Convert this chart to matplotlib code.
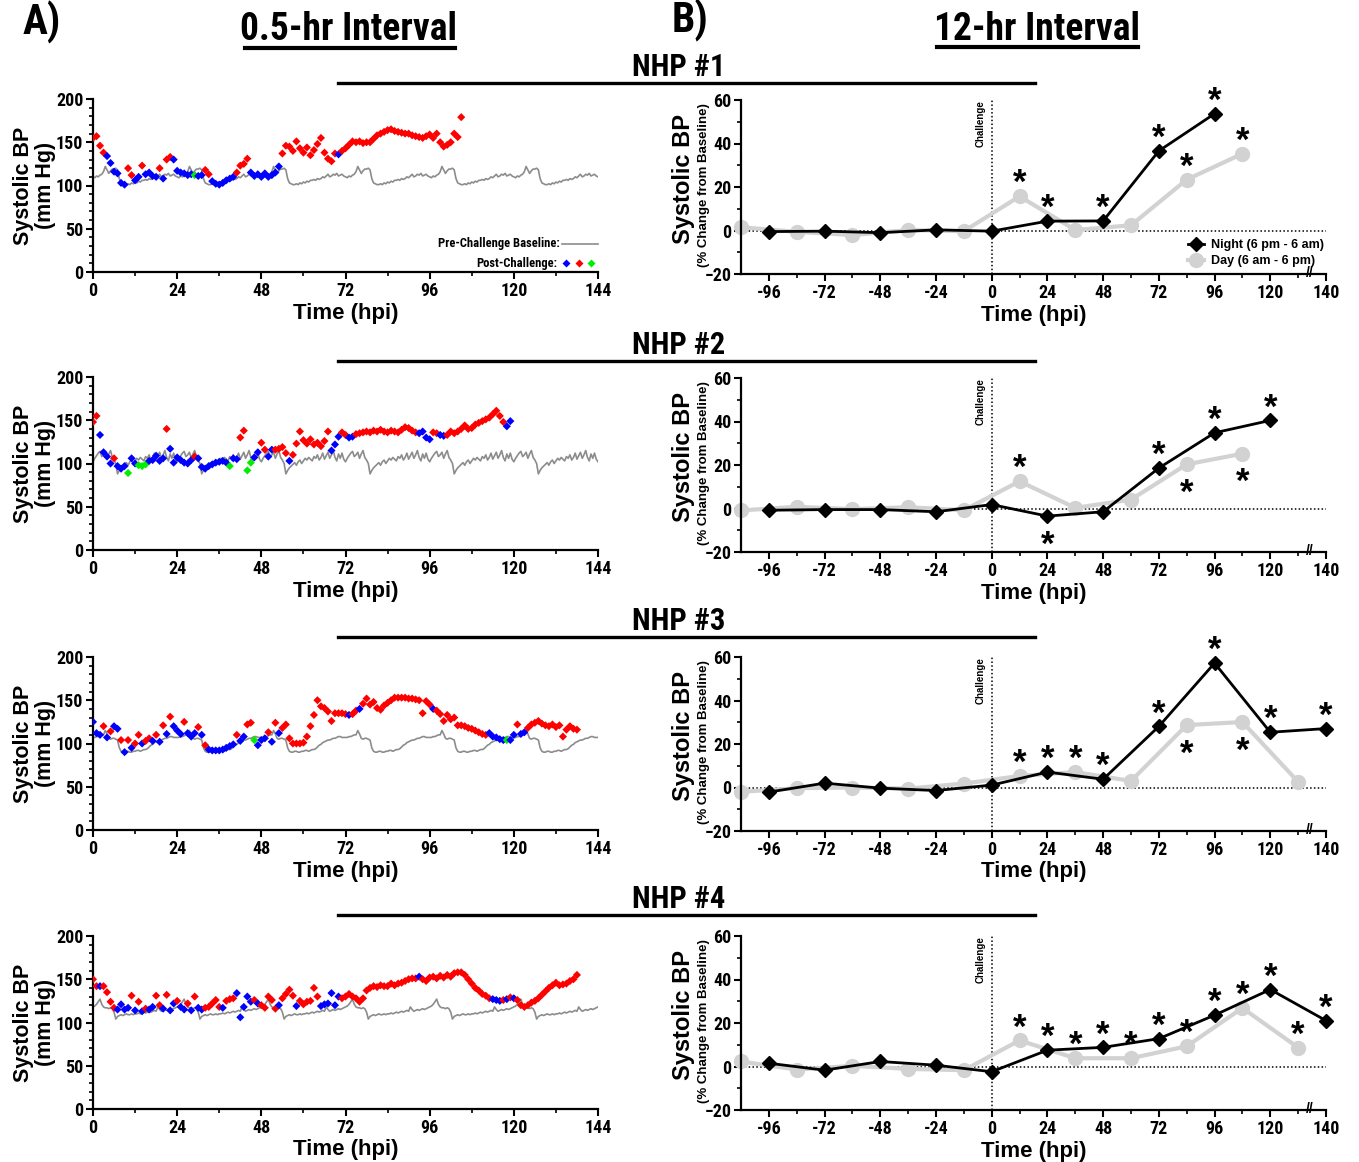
import numpy as np
import matplotlib
matplotlib.use("Agg")
import matplotlib.pyplot as plt
from matplotlib import font_manager
from matplotlib.font_manager import FontProperties
from matplotlib.lines import Line2D
from matplotlib.ticker import MultipleLocator, FixedLocator

# pick a condensed bold face for ticks and headers
_fonts = font_manager.fontManager.ttflist
_names = {f.name for f in _fonts}
if "Liberation Sans Narrow" in _names:
    NARROW, STRETCH, NSCALE = "Liberation Sans Narrow", "normal", 1.0
elif "Roboto Condensed" in _names:
    NARROW, STRETCH, NSCALE = "Roboto Condensed", "normal", 1.0
elif any(f.name == "DejaVu Sans" and f.stretch in ("condensed", "semi-condensed") for f in _fonts):
    NARROW, STRETCH, NSCALE = "DejaVu Sans", "condensed", 0.92
else:
    NARROW, STRETCH, NSCALE = "Liberation Sans", "normal", 0.84
WIDE = "Liberation Sans"


def narrow(size):
    return FontProperties(family=NARROW, stretch=STRETCH, weight="bold", size=size * NSCALE)


def wide(size):
    return FontProperties(family=WIDE, weight="bold", size=size)


# ---- A) 0.5-hr interval: pre-challenge daily baseline profile (0, 0.5, ... 23.5 h)
nhp1_base_day = [110, 109, 111, 110, 112, 113, 116, 122, 118, 114, 117, 119,
                 119, 120, 118, 108, 103, 102, 101, 101, 102, 101, 103, 102,
                 104, 103, 105, 104, 106, 106, 107, 106, 108, 107, 108, 110,
                 109, 111, 113, 110, 111, 113, 112, 114, 111, 112, 113, 111]
nhp2_base_day = [102, 106, 109, 112, 114, 108, 110, 113, 106, 111, 115, 107,
                 104, 100, 88, 92, 95, 97, 99, 101, 98, 102, 104, 100,
                 103, 106, 104, 107, 105, 103, 108, 106, 110, 104, 107, 112,
                 105, 109, 113, 106, 110, 115, 107, 103, 111, 106, 112, 105]
nhp3_base_day = [107, 107, 108, 108, 109, 110, 110, 115, 111, 106, 105, 106,
                 106, 105, 104, 95, 91, 90, 90, 91, 91, 90, 90, 91,
                 91, 92, 92, 91, 92, 93, 93, 94, 96, 98, 99, 101,
                 102, 103, 104, 104, 105, 106, 106, 107, 108, 108, 107, 107]
nhp4_base_day = [118, 119, 121, 124, 127, 121, 118, 117, 117, 116, 117, 116,
                 112, 104, 107, 108, 109, 108, 109, 110, 109, 109, 110, 109,
                 110, 110, 111, 110, 111, 112, 111, 112, 113, 112, 113, 114,
                 113, 118, 115, 113, 114, 115, 114, 115, 116, 115, 116, 117]

# post-challenge systolic BP, hourly from 0 hpi; colour code b / r / g per point
nhp1_post = [155, 157, 146, 138, 134, 126, 116, 114, 103, 101,
             120, 112, 106, 110, 123, 113, 115, 111, 110, 120,
             108, 130, 133, 130, 117, 115, 114, 112, 113, 112,
             111, 112, 118, 113, 105, 102, 101, 103, 106, 108,
             110, 115, 123, 125, 131, 115, 111, 113, 110, 114,
             110, 112, 115, 122, 137, 146, 145, 140, 151, 143,
             138, 144, 135, 141, 148, 155, 138, 131, 128, 137,
             136, 140, 143, 147, 151, 150, 151, 149, 150, 150,
             154, 158, 160, 162, 164, 165, 163, 162, 161, 160,
             160, 158, 157, 156, 155, 157, 159, 155, 160, 150,
             145, 147, 150, 160, 156, 179]
nhp1_codes = ("rrrrbbbbbb" "rrbbrbbbbr" "brrbbbbbbg" "bbrrbbbbbb" "brrrrbbbbb"
              "bbbbrrrrrr" "rrrrrrrrrr" "brrrrrrrrr" "rrrrrrrrrr" "rrrrrrrrrr" "rrrrrr")

nhp2_post = [148, 155, 133, 113, 108, 100, 106, 97, 94, 97,
             89, 106, 100, 98, 97, 99, 103, 104, 109, 103,
             106, 140, 117, 101, 107, 104, 101, 100, 104, 108,
             106, 96, 94, 97, 99, 101, 102, 103, 101, 97,
             106, 105, 130, 138, 92, 101, 107, 113, 124, 116,
             108, 116, 116, 117, 119, 112, 103, 110, 123, 137,
             127, 123, 128, 122, 124, 120, 126, 137, 115, 122,
             131, 136, 133, 130, 131, 134, 135, 136, 137, 136,
             138, 137, 139, 137, 136, 138, 137, 136, 139, 142,
             141, 138, 136, 135, 137, 130, 128, 136, 135, 133,
             132, 133, 137, 135, 137, 140, 144, 140, 141, 145,
             147, 149, 151, 153, 157, 161, 155, 148, 143, 149]
nhp2_codes = ("rrbbbbrbbb" "gbbgggbbbb" "brbbbbbbbr" "bbbbbbbbbg" "bbrrggbbrr"
              "bbrrrrbrrr" "rrrrrrrrbb" "brrbbrrrrr" "rrrrrrrrrr" "rrrbbbbrrb"
              "brrrrrrrrr" "rrrrrrrrbb")

nhp3_post = [125, 112, 110, 120, 107, 114, 120, 117, 104, 90,
             104, 95, 100, 110, 100, 103, 106, 103, 110, 102,
             121, 111, 131, 120, 115, 111, 125, 112, 108, 112,
             119, 110, 98, 93, 92, 92, 92, 93, 95, 97,
             99, 110, 103, 108, 122, 124, 104, 98, 104, 106,
             113, 102, 124, 112, 118, 122, 106, 100, 100, 100,
             101, 108, 120, 133, 150, 143, 141, 137, 126, 135,
             135, 135, 134, 133, 134, 138, 140, 146, 152, 145,
             148, 141, 139, 144, 147, 150, 153, 153, 153, 153,
             152, 152, 151, 150, 135, 149, 145, 140, 138, 134,
             126, 133, 128, 130, 121, 121, 120, 118, 117, 115,
             113, 111, 110, 112, 108, 107, 105, 104, 104, 104,
             110, 122, 111, 113, 118, 122, 124, 126, 123, 121,
             120, 122, 119, 121, 108, 116, 120, 117, 116]
nhp3_codes = ("bbbrbrbbrb" "rbrrbrrbrb" "rbrbbbrbbb" "rbrbbbbbbb" "brbbrrgbbb"
              "rbrbrrrrrr" "rrrrrrrrrr" "rrrbrrbrrr" "rrrrrrrrrr" "rrrrrrrbrr"
              "rrrrrrrrrr" "rrrbbbbbgb" "brbbrrrrrr" "rrrrrrrrr")

nhp4_post = [150, 142, 142, 142, 135, 124, 117, 115, 121, 115,
             117, 131, 114, 124, 113, 116, 115, 118, 131, 120,
             116, 132, 114, 122, 125, 118, 115, 122, 114, 130,
             117, 115, 117, 118, 122, 126, 118, 117, 125, 127,
             128, 134, 106, 118, 130, 124, 126, 122, 120, 117,
             130, 126, 116, 120, 128, 133, 138, 131, 119, 125,
             121, 124, 125, 140, 130, 119, 121, 122, 134, 120,
             130, 128, 130, 133, 130, 128, 124, 128, 137, 140,
             142, 141, 143, 142, 142, 145, 143, 145, 146, 148,
             150, 151, 151, 153, 150, 148, 152, 153, 151, 154,
             152, 155, 153, 157, 158, 158, 155, 150, 145, 140,
             137, 133, 131, 128, 127, 126, 125, 126, 127, 129,
             128, 126, 120, 118, 120, 123, 125, 128, 132, 136,
             140, 143, 146, 143, 144, 145, 148, 150, 155]
nhp4_codes = ("rrbrrrrbbb" "brbrbrbbrr" "brbbrbbrbr" "bbrrrrrbrr" "rbbbbbrbrr"
              "rrrbrrrrbr" "rrrrrbbbbb" "brrrrrrrrr" "rrrrrrrrrr" "rrrbrrrrrr"
              "rrrrrrrrrr" "rrrrbbbrbr" "brrrrrrrrr" "rrrrrrrrr")

# ---- B) 12-hr interval: % change from baseline
night_hours = [-96, -72, -48, -24, 0, 24, 48, 72, 96, 120, 144]
day_hours = [-108, -84, -60, -36, -12, 12, 36, 60, 84, 108, 132]

nhp1_night = [-0.5, -0.3, -1.0, 0.3, -0.3, 4.3, 4.4, 36.6, 53.7]
nhp1_day = [1.5, -0.6, -2.1, 0.2, -0.3, 15.7, 0.2, 2.4, 23.4, 35.3]
nhp2_night = [-0.8, -0.5, -0.5, -1.5, 1.8, -3.5, -1.5, 18.6, 34.8, 40.5]
nhp2_day = [-0.9, 0.8, -0.3, 0.6, -0.8, 12.5, 0.3, 4.1, 20.3, 25.2]
nhp3_night = [-2.1, 2.0, -0.3, -1.4, 1.1, 7.1, 3.8, 28.1, 57.2, 25.4, 27.1]
nhp3_day = [-2.0, -0.3, 0.0, -0.5, 1.8, 5.3, 7.1, 3.0, 28.7, 30.1, 2.6]
nhp4_night = [1.5, -1.7, 2.3, 0.6, -2.4, 7.5, 8.8, 12.8, 23.6, 35.4, 21.1]
nhp4_day = [2.3, -1.4, 0.3, -1.1, -1.7, 12.0, 3.8, 3.8, 9.3, 26.9, 8.7]

# significance stars: (hpi, +1 above / -1 below)
nhp1_night_sig = [(24, 1), (48, 1), (72, 1), (96, 1)]
nhp1_day_sig = [(12, 1), (84, 1), (108, 1)]
nhp2_night_sig = [(24, -1), (72, 1), (96, 1), (120, 1)]
nhp2_day_sig = [(12, 1), (84, -1), (108, -1)]
nhp3_night_sig = [(24, 1), (48, 1), (72, 1), (96, 1), (120, 1), (144, 1)]
nhp3_day_sig = [(12, 1), (36, 1), (84, -1), (108, -1)]
nhp4_night_sig = [(24, 1), (48, 1), (72, 1), (96, 1), (120, 1), (144, 1)]
nhp4_day_sig = [(12, 1), (36, 1), (60, 1), (84, 1), (108, 1), (132, 1)]

CODE_COLORS = {"b": "#0000ff", "r": "#ff0000", "g": "#00ee00"}
DAY_GRAY = "#d2d2d2"


def tick_style(ax):
    for side in ["top", "right"]:
        ax.spines[side].set_visible(False)
    for side in ["left", "bottom"]:
        ax.spines[side].set_linewidth(1.6)
    ax.tick_params(which="major", length=5, width=1.5, direction="out", pad=2)
    ax.tick_params(which="minor", length=3, width=1.2, direction="out")
    for lab in ax.get_xticklabels() + ax.get_yticklabels():
        lab.set_fontproperties(narrow(13))


def draw_raw(ax, base_day, post, codes, legend=False):
    t_half = np.arange(0, 144.5, 0.5)
    base = np.append(np.tile(base_day, 6), base_day[0])
    ax.plot(t_half, base, color="#8c8c8c", lw=1.2, zorder=2)
    t = np.arange(len(post))
    ax.scatter(t, post, c=[CODE_COLORS[c] for c in codes], marker="D", s=17,
               linewidths=0, zorder=3)
    ax.set_xlim(0, 144)
    ax.set_ylim(0, 200)
    ax.xaxis.set_major_locator(MultipleLocator(24))
    ax.xaxis.set_minor_locator(MultipleLocator(12))
    ax.yaxis.set_major_locator(MultipleLocator(50))
    ax.yaxis.set_minor_locator(MultipleLocator(10))
    ax.set_xlabel("Time (hpi)", fontproperties=wide(16), labelpad=2)
    ax.set_ylabel("Systolic BP\n(mm Hg)", fontproperties=wide(15.5), linespacing=1.1,
                  va="center")
    ax.yaxis.set_label_coords(-0.116, 0.5)
    tick_style(ax)
    if legend:
        ax.text(0.925, 0.162, "Pre-Challenge Baseline:", transform=ax.transAxes, ha="right",
                va="center", fontproperties=narrow(9))
        ax.plot([0.929, 1.0], [0.162, 0.162], transform=ax.transAxes, color="#8c8c8c",
                lw=1.2, clip_on=False)
        ax.text(0.92, 0.052, "Post-Challenge:", transform=ax.transAxes, ha="right",
                va="center", fontproperties=narrow(9))
        for xx, c in zip([0.937, 0.962, 0.986], ["b", "r", "g"]):
            ax.plot([xx], [0.052], transform=ax.transAxes, marker="D", ms=4,
                    color=CODE_COLORS[c], mec="none", clip_on=False)


def draw_change(ax, night, day, night_sig, day_sig, legend=False):
    ax.axhline(0, color="k", lw=1.1, ls=(0, (1, 1.5)), zorder=1)
    ax.axvline(0, color="k", lw=1.1, ls=(0, (1, 1.5)), zorder=1)
    ax.text(-2.5, 60, "Challenge", rotation=90, ha="right", va="top",
            fontproperties=wide(7))
    ax.plot(day_hours[:len(day)], day, color=DAY_GRAY, lw=3, marker="o", ms=10,
            mec=DAY_GRAY, zorder=2, clip_on=False, label="Day (6 am - 6 pm)")
    ax.plot(night_hours[:len(night)], night, color="k", lw=2, marker="D", ms=7.5,
            zorder=3, clip_on=False, label="Night (6 pm - 6 am)")
    night_lookup = dict(zip(night_hours, night))
    day_lookup = dict(zip(day_hours, day))
    for sig, lookup in [(night_sig, night_lookup), (day_sig, day_lookup)]:
        for h, side in sig:
            ax.annotate("*", (h, lookup[h]), xytext=(0, 9 if side > 0 else -21),
                        textcoords="offset points", ha="center", va="center",
                        fontproperties=wide(25), annotation_clip=False)
    ax.set_xlim(-108, 144)
    ax.set_ylim(-20, 60)
    ax.xaxis.set_major_locator(FixedLocator([-96, -72, -48, -24, 0, 24, 48, 72, 96, 120, 144]))
    ax.set_xticklabels(["-96", "-72", "-48", "-24", "0", "24", "48", "72", "96", "120", "140"])
    ax.xaxis.set_minor_locator(FixedLocator([-84, -60, -36, -12, 12, 36, 60, 84, 108, 132]))
    ax.yaxis.set_major_locator(MultipleLocator(20))
    ax.yaxis.set_minor_locator(MultipleLocator(10))
    ax.text(137, -19.5, "//", ha="center", va="center", fontproperties=wide(10),
            clip_on=False)
    ax.set_xlabel("Time (hpi)", fontproperties=wide(16), labelpad=2)
    ax.text(-0.099, 0.545, "Systolic BP", transform=ax.transAxes, rotation=90, ha="center",
            va="center", fontproperties=wide(17))
    ax.text(-0.064, 0.51, "(% Change from Baseline)", transform=ax.transAxes, rotation=90,
            ha="center", va="center", fontproperties=wide(9.5))
    tick_style(ax)
    if legend:
        h, l = ax.get_legend_handles_labels()
        ax.legend(h[::-1], l[::-1], loc="lower right", bbox_to_anchor=(1.015, -0.025),
                  frameon=False, handlelength=1.3, handletextpad=0.5, labelspacing=0.3,
                  prop=wide(9))


W, H = 1359, 1162
fig = plt.figure(figsize=(W / 100, H / 100), dpi=100)


def px_axes(x0, y_top, x1, y_bot):
    return fig.add_axes([x0 / W, 1 - y_bot / H, (x1 - x0) / W, (y_bot - y_top) / H])


raw_sets = [(nhp1_base_day, nhp1_post, nhp1_codes),
            (nhp2_base_day, nhp2_post, nhp2_codes),
            (nhp3_base_day, nhp3_post, nhp3_codes),
            (nhp4_base_day, nhp4_post, nhp4_codes)]
change_sets = [(nhp1_night, nhp1_day, nhp1_night_sig, nhp1_day_sig),
               (nhp2_night, nhp2_day, nhp2_night_sig, nhp2_day_sig),
               (nhp3_night, nhp3_day, nhp3_night_sig, nhp3_day_sig),
               (nhp4_night, nhp4_day, nhp4_night_sig, nhp4_day_sig)]

left_tops = [99, 377, 657, 936]
right_tops = [100, 378, 657, 936]
header_y = [67, 345, 621, 899]

for i in range(4):
    axl = px_axes(93, left_tops[i], 598, left_tops[i] + 173)
    draw_raw(axl, *raw_sets[i], legend=(i == 0))
    axr = px_axes(741, right_tops[i], 1326, right_tops[i] + 174)
    draw_change(axr, *change_sets[i], legend=(i == 0))
    fig.text(679 / W, 1 - header_y[i] / H, f"NHP #{i + 1}", ha="center", va="center",
             fontproperties=narrow(22))
    fig.add_artist(Line2D([338 / W, 1035 / W], [1 - (header_y[i] + 16) / H] * 2,
                          transform=fig.transFigure, color="k", lw=2.4))

fig.text(42 / W, 1 - 22 / H, "A)", ha="center", va="center", fontproperties=narrow(30))
fig.text(690 / W, 1 - 20 / H, "B)", ha="center", va="center", fontproperties=narrow(30))
fig.text(349 / W, 1 - 30 / H, "0.5-hr Interval", ha="center", va="center",
         fontproperties=narrow(27))
fig.text(1037 / W, 1 - 30 / H, "12-hr Interval", ha="center", va="center",
         fontproperties=narrow(27))
fig.add_artist(Line2D([245 / W, 455 / W], [1 - 48 / H] * 2, transform=fig.transFigure,
                      color="k", lw=3))
fig.add_artist(Line2D([937 / W, 1138 / W], [1 - 47 / H] * 2, transform=fig.transFigure,
                      color="k", lw=3))

fig.savefig("out.png", dpi=100)
